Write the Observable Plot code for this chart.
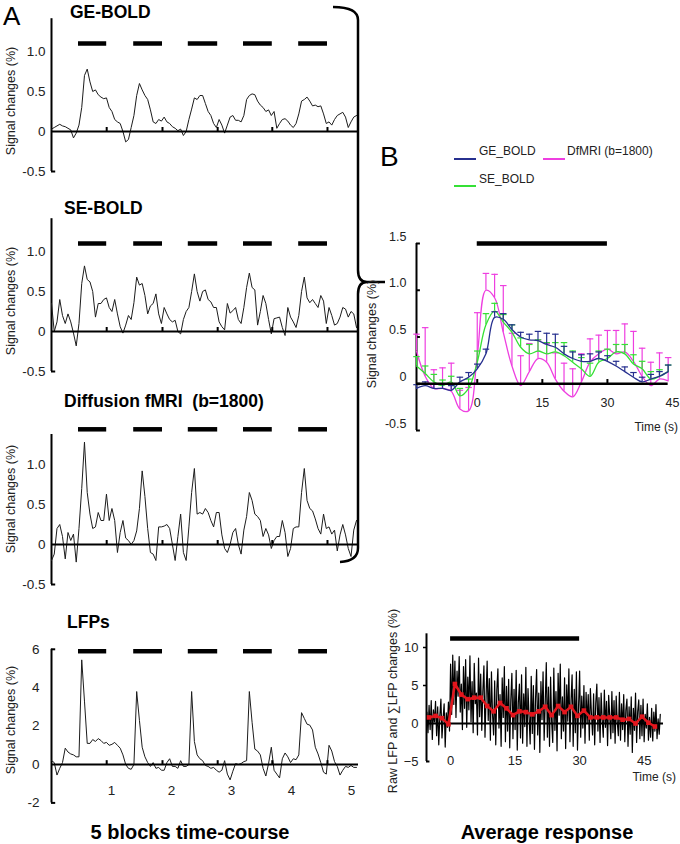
<!DOCTYPE html>
<html><head><meta charset="utf-8">
<script src="https://cdn.jsdelivr.net/npm/d3@7"></script>
<script src="https://cdn.jsdelivr.net/npm/@observablehq/plot@0.6"></script>
<style>
body{margin:0;background:#fff;}
#fig{position:relative;width:680px;height:844px;overflow:hidden;font-family:"Liberation Sans",Arial,Helvetica,sans-serif;color:#000;background:#fff}
</style></head><body><div id="fig"></div>
<script>
// ---------- Panel A: 5-block time courses (x in block units, one sample every stepA) ----------
const stepA = 0.0458;
const xEndA = 5.117;
const blockLabels = [1, 2, 3, 4, 5];
const stimOn  = [0.45, 1.37, 2.28, 3.2, 4.12];
const stimOff = [0.92, 1.85, 2.77, 3.68, 4.6];

const geBold = [0.03,0.05,0.07,0.09,0.07,0.06,0.04,0.02,-0.08,-0.02,
0.08,0.3,0.7,0.78,0.62,0.5,0.52,0.46,0.43,0.41,
0.42,0.3,0.25,0.15,0.12,0.1,0.0,-0.13,-0.1,0.05,
0.2,0.45,0.6,0.52,0.45,0.4,0.27,0.12,0.1,0.15,
0.13,0.18,0.12,0.1,0.06,0.04,0.01,0.03,-0.05,0.0,
0.15,0.28,0.42,0.4,0.45,0.45,0.35,0.25,0.2,0.1,
0.05,0.15,0.08,-0.02,0.08,0.18,0.2,0.14,0.14,0.12,
0.2,0.4,0.45,0.47,0.46,0.38,0.33,0.3,0.25,0.27,
0.2,0.25,0.04,0.1,0.15,0.16,0.13,0.08,0.05,0.1,
0.22,0.38,0.4,0.43,0.38,0.32,0.33,0.31,0.32,0.22,
0.1,0.12,0.08,0.15,0.2,0.22,0.24,0.18,0.05,0.12,
0.18,0.2];

const seBold = [0.35,0.0,0.12,0.4,0.2,0.1,0.22,0.12,-0.02,-0.18,
0.1,0.6,0.82,0.65,0.62,0.5,0.18,0.35,0.35,0.4,
0.42,0.3,0.25,0.4,0.22,0.06,-0.02,0.08,0.2,0.15,
0.36,0.68,0.58,0.6,0.45,0.22,0.32,0.35,0.47,0.22,
0.1,0.3,0.22,0.15,0.12,0.14,0.0,-0.03,0.15,0.25,
0.3,0.5,0.72,0.5,0.38,0.5,0.52,0.4,0.37,0.3,
0.3,0.12,0.06,0.02,0.35,0.23,0.26,0.3,0.15,0.1,
0.3,0.55,0.73,0.55,0.52,0.08,0.25,0.45,0.35,0.15,
-0.03,0.16,0.17,0.18,0.05,-0.05,0.3,0.18,0.12,0.05,
0.2,0.5,0.68,0.42,0.36,0.4,0.35,0.3,0.45,0.38,
0.1,0.3,0.2,0.08,0.1,0.18,0.3,0.28,0.18,0.25,
0.22,0.05];

const dfmri = [-0.2,-0.12,0.2,0.25,0.1,-0.18,0.15,0.05,0.13,-0.22,
0.2,0.7,1.28,0.65,0.38,0.2,0.22,0.4,0.3,0.3,
0.63,0.3,0.45,0.3,-0.1,0.15,0.3,0.08,0.05,0.0,
0.05,0.17,0.45,0.92,0.6,0.2,-0.1,-0.12,-0.2,0.22,
0.22,0.23,0.25,0.2,0.0,-0.2,0.1,0.38,-0.1,-0.2,
0.22,0.65,0.95,0.38,0.4,0.38,0.45,0.4,0.3,0.22,
0.4,0.4,0.12,-0.05,-0.1,0.0,0.15,0.2,0.0,-0.12,
0.18,0.35,0.65,0.55,0.38,0.35,0.3,0.1,0.2,0.12,
-0.05,0.05,0.1,0.1,0.3,0.15,-0.15,-0.05,0.2,0.22,
0.22,0.65,0.95,0.55,0.45,0.42,0.32,0.2,0.13,0.38,
0.2,0.22,0.13,0.18,-0.08,0.12,0.25,0.12,-0.05,-0.15,
0.18,0.3];

const lfp = [0.2,0.1,-0.55,-0.2,0.1,0.85,0.65,0.55,0.5,0.4,
0.4,5.45,3.3,1.1,1.1,1.3,1.2,1.35,1.25,1.1,
1.15,1.0,1.05,1.15,1.0,0.85,0.5,0.0,-0.2,-0.25,
0.0,3.8,2.3,0.9,0.4,0.1,-0.1,0.1,-0.2,-0.15,
-0.3,-0.3,0.1,0.3,-0.1,-0.1,-0.2,0.2,-0.1,-0.1,
0.0,3.8,1.2,0.5,0.3,0.2,-0.05,-0.1,-0.2,-0.15,
-0.3,-0.4,-0.3,0.2,-0.5,-0.8,-0.35,0.05,0.0,0.05,
0.15,0.2,3.8,2.2,0.8,0.7,0.5,-0.2,-0.6,0.05,
0.9,-0.3,-0.5,-0.7,0.3,0.6,0.4,0.1,0.3,0.25,
0.5,2.7,2.4,2.1,2.05,1.8,0.9,0.55,0.1,-0.4,
-0.5,1.0,0.7,0.15,-0.1,-0.55,-0.3,-0.1,-0.15,-0.05,
-0.15,-0.15];

// ---------- Panel B: average responses (2 s samples) ----------
const bTimes = [-14,-12,-10,-8,-6,-4,-2,0,2,4,6,8,10,12,14,16,18,20,22,24,26,28,30,32,34,36,38,40,42,44];
const geMean = [-0.05,-0.02,-0.05,-0.05,-0.07,0.02,0.07,0.16,0.32,0.71,0.69,0.58,0.5,0.47,0.46,0.42,0.39,0.32,0.27,0.24,0.24,0.27,0.24,0.19,0.13,0.07,0.02,0.05,0.08,0.13];
const geErr  = [0.04,0.04,0.05,0.05,0.05,0.05,0.05,0.05,0.05,0.06,0.06,0.05,0.05,0.06,0.1,0.12,0.14,0.08,0.07,0.07,0.08,0.07,0.06,0.05,0.05,0.05,0.05,0.05,0.05,0.07];
const seMean = [0.19,0.11,0.02,-0.02,0.02,-0.13,-0.05,0.23,0.63,0.78,0.66,0.55,0.39,0.32,0.35,0.32,0.34,0.3,0.23,0.16,0.08,0.23,0.27,0.34,0.32,0.21,0.16,0.05,0.08,0.13];
const seErr  = [0.1,0.08,0.08,0.06,0.06,0.08,0.1,0.12,0.12,0.08,0.08,0.08,0.1,0.1,0.12,0.12,0.1,0.14,0.12,0.12,0.14,0.12,0.1,0.08,0.1,0.1,0.08,0.08,0.07,0.07];
const dfMean = [0.35,0.08,-0.05,-0.05,-0.08,-0.27,-0.29,0.3,1.0,0.92,0.55,0.19,-0.02,0.13,0.27,0.23,0.05,-0.08,-0.14,0.02,0.23,0.32,0.37,0.32,0.34,0.24,0.08,-0.02,0.05,0.03];
const dfErr  = [0.18,0.52,0.2,0.22,0.3,0.2,0.25,0.46,0.18,0.25,0.5,0.35,0.32,0.3,0.2,0.2,0.28,0.3,0.3,0.3,0.25,0.2,0.2,0.25,0.3,0.32,0.3,0.25,0.28,0.25];
const bTicksX = [0, 15, 30, 45];
const bTicksY = [-0.5, 0, 0.5, 1, 1.5];

// ---------- Panel B (bottom): raw LFP (0.25 s) and summed LFP (1.5 s) ----------
const rawStart = -5.5, rawStep = 0.25;
const rawLfp = [1.5,-1.2,2.4,-0.8,3.0,-2.1,1.8,0.2,2.9,-1.6,
2.2,-2.8,1.0,3.2,-1.9,0.6,2.6,-3.1,1.4,-0.5,
2.8,-1.0,7.8,1.2,9.0,2.5,8.2,0.8,6.9,3.6,
8.8,1.5,5.2,-0.8,7.5,2.0,8.4,-0.5,6.1,1.8,
8.9,0.2,5.5,-1.2,7.9,2.6,4.0,-1.5,8.6,0.9,
6.5,-0.9,4.2,7.6,-1.8,3.5,8.2,0.4,5.9,-2.2,
6.8,1.2,-1.5,5.6,-2.8,4.4,7.2,-0.6,3.8,-3.0,
6.0,0.8,7.5,-2.4,4.9,-1.0,5.8,-3.2,3.1,6.6,
-2.0,4.5,-0.8,7.0,-3.5,2.8,5.2,-1.9,6.4,-2.6,
3.9,-0.4,7.4,-3.0,4.6,0.9,-2.7,6.2,-1.3,5.0,
-3.4,3.3,7.1,-1.5,4.0,-3.8,5.5,0.5,6.8,-2.2,
2.7,8.0,-1.8,4.8,-3.0,6.1,0.2,-2.5,7.3,-0.9,
4.2,-3.6,6.6,1.1,7.8,-2.0,3.5,-1.0,6.0,-3.3,
5.1,0.3,7.2,-2.4,3.0,6.4,-3.0,4.5,-1.2,6.8,
-3.5,2.2,6.9,-1.8,3.6,-0.6,5.0,-2.6,4.1,0.0,
3.8,-2.2,4.6,1.2,-1.5,3.9,-2.8,2.7,5.2,-1.0,
3.4,-2.5,4.0,0.5,-1.8,4.4,-0.5,2.9,-2.9,3.7,
1.0,-2.0,4.2,-1.2,3.0,-2.6,3.6,0.2,-1.6,4.1,
-2.2,2.6,-0.8,3.8,-2.4,1.8,3.2,-3.0,2.2,-1.4,
3.5,-3.8,2.0,-0.9,4.0,-2.5,1.6,3.1,-2.0,2.4,
-1.6,3.2,-2.4,1.2,-0.6,2.6,-2.2,0.8,-1.8,2.0,
-2.3,1.5,-1.0,2.5,-2.0,0.6,-1.4,1.2];
const sumStart = -5, sumStep = 1.5;
const sumLfp = [0.8,1.0,0.7,-0.1,5.2,3.8,3.2,3.4,3.4,2.3,1.6,2.7,2.0,1.1,1.6,1.5,1.2,1.6,2.2,1.1,2.3,1.5,2.2,1.0,1.7,0.8,0.8,0.8,0.8,0.8,0.5,0.6,0.0,0.9,0.1,-0.4];
const b2TicksX = [0, 15, 30, 45];
const b2TicksY = [-5, 0, 5, 10];

// ---------- colours ----------
const cGE = "#27308f", cSE = "#35e035", cDF = "#ee3fe0", cRed = "#e3161d";
const FONT = '"Liberation Sans", Arial, Helvetica, sans-serif';

const fig = document.getElementById("fig");
function place(node, left, top) {
  node.style.position = "absolute"; node.style.left = left + "px"; node.style.top = top + "px";
  fig.appendChild(node);
}
function txt(s, x, y, o = {}) {
  const d = document.createElement("div");
  d.textContent = s;
  d.style.cssText = `position:absolute;white-space:pre;line-height:1;left:${x}px;top:${y}px;font-size:${o.size||12}px;font-weight:${o.bold?"bold":"normal"};color:${o.color||"#000"};`;
  let tf = o.anchor === "middle" ? "translate(-50%,-50%)" : o.anchor === "end" ? "translate(-100%,-50%)" : "translate(0,-50%)";
  if (o.rotate) tf = "translate(-50%,-50%) rotate(-90deg)";
  d.style.transform = tf;
  fig.appendChild(d);
}
const fmt1 = d => d === 0 ? "0" : d.toFixed(1);

function panelA(o) {
  const data = o.values.map((v, i) => ({t: i * stepA, v}));
  const bars = stimOn.map((s, i) => ({s, e: stimOff[i]}));
  const marks = [
    Plot.ruleX([0], {y1: o.axis[0], y2: o.axis[1], stroke: "#000", strokeWidth: 2}),
    Plot.ruleY(o.endTicks, {x1: 0, x2: 0.07, stroke: "#000", strokeWidth: 2}),
    Plot.axisY({ticks: o.ticks, tickSize: 0, tickPadding: o.pad, fontSize: 13.5, tickFormat: o.fmt, label: null, fill: "#222"}),
    Plot.line(data, {x: "t", y: "v", stroke: "#1c1c1c", strokeWidth: 1}),
    Plot.ruleY([0], {x1: 0, x2: xEndA, stroke: "#000", strokeWidth: 2}),
    Plot.ruleX(stimOff, {y1: 0, y2: o.tick, stroke: "#000", strokeWidth: 2}),
    Plot.ruleY(bars, {x1: "s", x2: "e", y: o.bar, stroke: "#000", strokeWidth: 4.5})
  ];
  if (o.xlabels) marks.push(Plot.text(blockLabels, {x: d => d, y: o.xlabY, text: d => String(d), fontSize: 13.5, fill: "#222"}));
  const p = Plot.plot({
    width: 365, height: o.h, marginLeft: 51, marginRight: 7, marginTop: o.mt, marginBottom: o.mb,
    x: {domain: [0, xEndA], axis: null}, y: {domain: o.ydom},
    style: {fontFamily: FONT, background: "transparent", overflow: "visible"},
    marks
  });
  place(p, 0, o.top);
}

panelA({values: geBold, top: 0, h: 190, mt: 11, mb: 19, ydom: [-0.5, 1.5], axis: [-0.5, 1.41], endTicks: [-0.5], ticks: [-0.5, 0, 0.5, 1], fmt: fmt1, pad: 6, tick: 0.05, bar: 1.1});
panelA({values: seBold, top: 200, h: 190, mt: 11, mb: 19, ydom: [-0.5, 1.5], axis: [-0.5, 1.41], endTicks: [-0.5], ticks: [-0.5, 0, 0.5, 1], fmt: fmt1, pad: 6, tick: 0.05, bar: 1.1});
panelA({values: dfmri, top: 413, h: 190, mt: 11, mb: 19, ydom: [-0.5, 1.5], axis: [-0.5, 1.375], endTicks: [-0.5], ticks: [-0.5, 0, 0.5, 1], fmt: fmt1, pad: 6, tick: 0.05, bar: 1.44});
panelA({values: lfp, top: 620, h: 193, mt: 19.2, mb: 10.6, ydom: [-2, 6.5], axis: [-2, 6], endTicks: [-2, 6], ticks: [-2, 0, 2, 4, 6], fmt: d => String(d), pad: 12, tick: 0.2, bar: 5.9, xlabels: true, xlabY: -1.35});

// Panel B
function bSeries(means, errs) { return means.map((v, i) => ({t: bTimes[i], v, e: errs[i]})); }
function errMarks(data, color) {
  return [
    Plot.ruleX(data, {x: "t", y1: "v", y2: d => d.v + d.e, stroke: color, strokeWidth: 1.2}),
    Plot.link(data, {x1: d => d.t - 0.75, x2: d => d.t + 0.75, y1: d => d.v + d.e, y2: d => d.v + d.e, stroke: color, strokeWidth: 1.2}),
    Plot.line(data, {x: "t", y: "v", stroke: color, strokeWidth: 1.3, curve: "catmull-rom"})
  ];
}
const dfS = bSeries(dfMean, dfErr), seS = bSeries(seMean, seErr), geS = bSeries(geMean, geErr);
const pB = Plot.plot({
  width: 320, height: 230, marginLeft: 56, marginRight: 8, marginTop: 18, marginBottom: 25,
  x: {domain: [-14, 45], axis: null}, y: {domain: [-0.5, 1.5]},
  style: {fontFamily: FONT, background: "transparent", overflow: "visible"},
  marks: [
    Plot.ruleX([-14], {y1: -0.5, y2: 1.5, stroke: "#000", strokeWidth: 2}),
    Plot.ruleY(bTicksY, {x1: -14, x2: -13.1, stroke: "#000", strokeWidth: 2}),
    Plot.axisY({ticks: bTicksY, tickSize: 0, tickPadding: 10, dy: -7, fontSize: 12.5, tickFormat: fmt1, label: null, fill: "#222"}),
    ...errMarks(dfS, cDF),
    ...errMarks(seS, cSE),
    ...errMarks(geS, cGE),
    Plot.ruleY([0], {x1: -14, x2: 44, stroke: "#000", strokeWidth: 2.5}),
    Plot.ruleX(bTicksX.slice(0, 3), {y1: 0, y2: 0.045, stroke: "#000", strokeWidth: 2}),
    Plot.text(bTicksX, {x: d => d, y: -0.21, text: d => String(d), fontSize: 12.5, fill: "#222"}),
    Plot.ruleY([1.5], {x1: 0, x2: 30, stroke: "#000", strokeWidth: 4.5})
  ]
});
place(pB, 360, 225);

// Panel B bottom
const rawData = rawLfp.map((v, i) => ({t: rawStart + i * rawStep, v}));
const sumData = sumLfp.map((v, i) => ({t: sumStart + i * sumStep, v}));
const pB2 = Plot.plot({
  width: 300, height: 160, marginLeft: 46, marginRight: 17, marginTop: 11.8, marginBottom: 19,
  x: {domain: [-5.6, 49.5], axis: null}, y: {domain: [-5, 12]},
  style: {fontFamily: FONT, background: "transparent", overflow: "visible"},
  marks: [
    Plot.line(rawData, {x: "t", y: "v", stroke: "#000", strokeWidth: 1.2}),
    Plot.ruleX([-5.6], {y1: -5, y2: 11.8, stroke: "#000", strokeWidth: 2}),
    Plot.ruleY([-5], {x1: -5.6, x2: -4.8, stroke: "#000", strokeWidth: 2}),
    Plot.ruleY([5, 10], {x1: -6.3, x2: -5.6, stroke: "#000", strokeWidth: 1.5}),
    Plot.axisY({ticks: b2TicksY, tickSize: 0, tickPadding: 8, fontSize: 13, label: null, fill: "#222"}),
    Plot.ruleY([0], {x1: -5.6, x2: 49.5, stroke: "#000", strokeWidth: 2}),
    Plot.line(sumData, {x: "t", y: "v", stroke: cRed, strokeWidth: 2.5}),
    Plot.dot(sumData, {x: "t", y: "v", symbol: "square", r: 2.6, fill: cRed}),
    Plot.text(b2TicksX, {x: d => d, y: -5, dy: -1, text: d => String(d), fontSize: 13, fill: "#222"}),
    Plot.ruleY([11.2], {x1: 0, x2: 30, stroke: "#000", strokeWidth: 4.5})
  ]
});
place(pB2, 380, 620);

// Brace joining panel A's BOLD/fMRI rows to panel B
const svg = d3.select(fig).append("svg").attr("width", 680).attr("height", 844)
  .style("position", "absolute").style("left", "0px").style("top", "0px").style("pointer-events", "none");
svg.append("path")
  .attr("d", "M333,7 Q358,7 358,20 L358,270 Q358,282 367,282 L385,282 M367,282 Q358,282 358,294 L358,548 Q358,561 340,562")
  .attr("fill", "none").attr("stroke", "#000").attr("stroke-width", 2.5);

// Texts
txt("A", 3, 16, {size: 26});
txt("B", 380, 157, {size: 28});
txt("GE-BOLD", 70, 13, {size: 17.5, bold: true});
txt("SE-BOLD", 64, 209, {size: 17.5, bold: true});
txt("Diffusion fMRI  (b=1800)", 64, 402, {size: 17.5, bold: true});
txt("LFPs", 67, 623, {size: 17.5, bold: true});
txt("5 blocks time-course", 190, 832, {size: 20, bold: true, anchor: "middle"});
txt("Average response", 547, 832, {size: 20, bold: true, anchor: "middle"});
txt("Signal changes (%)", 11, 101, {size: 12.5, rotate: true, color: "#222"});
txt("Signal changes (%)", 11, 301, {size: 12.5, rotate: true, color: "#222"});
txt("Signal changes (%)", 11, 499, {size: 12.5, rotate: true, color: "#222"});
txt("Signal changes (%)", 11, 720, {size: 12.5, rotate: true, color: "#222"});
txt("Signal changes (%)", 372, 334, {size: 12.5, rotate: true, color: "#222"});
txt("Raw LFP and \u2211LFP changes (%)", 393, 701, {size: 12.5, rotate: true, color: "#222"});
txt("Time (s)", 678, 427, {size: 12, anchor: "end", color: "#222"});
txt("Time (s)", 676, 777, {size: 12, anchor: "end", color: "#222"});

// Legend for panel B
function legendLine(x, y, color) {
  const d = document.createElement("div");
  d.style.cssText = `position:absolute;left:${x}px;top:${y}px;width:22px;height:2px;background:${color}`;
  fig.appendChild(d);
}
legendLine(454, 158, cGE); txt("GE_BOLD", 479, 151, {size: 12, color: "#222"});
legendLine(543, 158, cDF); txt("DfMRI (b=1800)", 567, 151, {size: 12, color: "#222"});
legendLine(454, 185, cSE); txt("SE_BOLD", 479, 179, {size: 12, color: "#222"});
</script></body></html>
